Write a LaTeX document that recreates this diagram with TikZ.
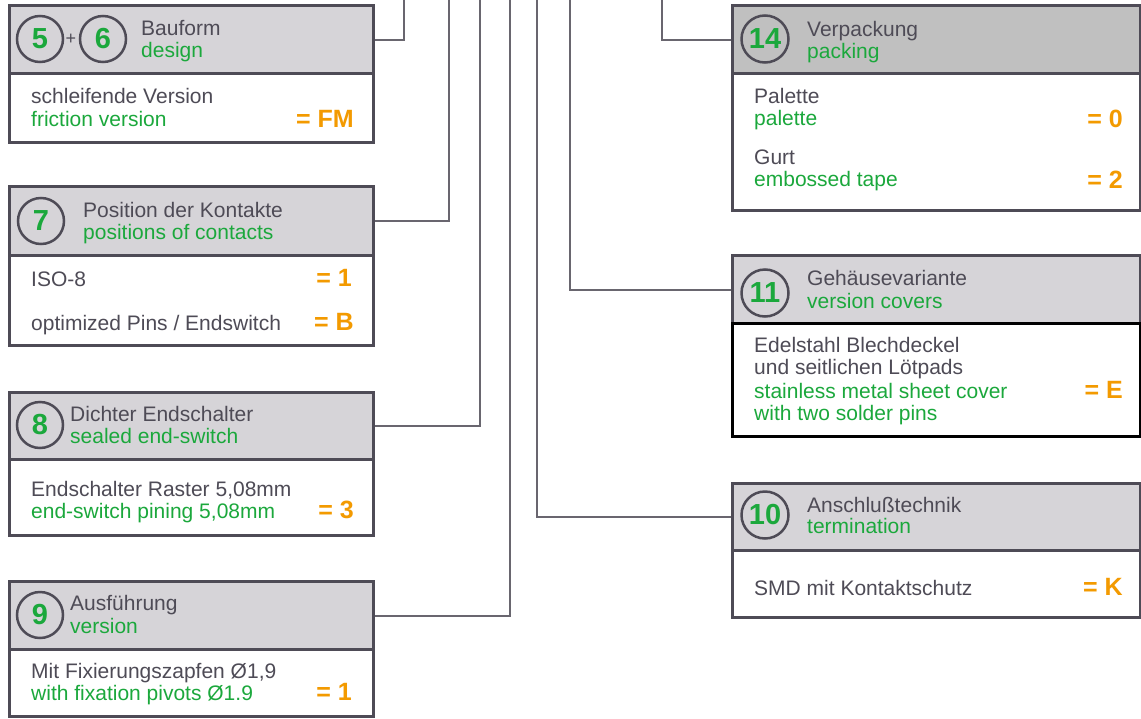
\documentclass[tikz,border=0pt]{standalone}
\usepackage{fontspec}
\setmainfont{Liberation Sans}
\usetikzlibrary{positioning}
\definecolor{txtgray}{HTML}{4E4B56}
\definecolor{txtgreen}{HTML}{1BA83C}
\definecolor{valorange}{HTML}{F39A00}
\definecolor{headfill}{HTML}{D6D4D8}
\definecolor{headdark}{HTML}{C0C0C0}
\definecolor{frame}{HTML}{4E4B56}
\tikzset{
	head/.style={draw=frame,line width=3pt,fill=headfill,anchor=north west,inner sep=0pt},
	body/.style={draw=frame,line width=3pt,fill=white,anchor=north west,inner sep=0pt},
	num/.style={circle,draw=frame,line width=2.5pt,minimum size=46pt,inner sep=0pt,text=txtgreen,font=\fontsize{29}{29}\selectfont\bfseries},
	de/.style={anchor=base west,inner sep=0pt,text=txtgray,font=\fontsize{21}{22}\selectfont},
	en/.style={de,text=txtgreen},
	val/.style={anchor=base east,inner sep=0pt,text=valorange,font=\fontsize{25}{25}\selectfont\bfseries},
	link/.style={draw=frame!85,line width=2pt}
}
\begin{document}
\begin{tikzpicture}[x=1pt,y=-1pt]
	\useasboundingbox (0,0) rectangle (1141,718);
	% left column
	\node[head,minimum width=364pt,minimum height=68pt] (h56) at (8,4) {};
	\node[body,minimum width=364pt,minimum height=69pt] (b56) at (8,72) {};
	\node[num] (n5) at (40,39) {5};
	\node[text=txtgray,inner sep=0pt,font=\fontsize{18}{18}\selectfont] (plus) at (71,39) {+};
	\node[num] (n6) at (103,39) {6};
	\node[de] (d56) at (141,35) {Bauform};
	\node[en] (e56) at (141,57) {design};
	\node[de] (o56a) at (31,103) {schleifende Version};
	\node[en] (o56b) at (31,126) {friction version};
	\node[val] (v56) at (354,127) {= FM};

	\node[head,minimum width=364pt,minimum height=69pt] (h7) at (8,185) {};
	\node[body,minimum width=364pt,minimum height=90pt] (b7) at (8,254) {};
	\node[num] (n7) at (41,221) {7};
	\node[de] (d7) at (83,217) {Position der Kontakte};
	\node[en] (e7) at (83,239) {positions of contacts};
	\node[de] (o7a) at (31,286) {ISO-8};
	\node[val] (v7a) at (352,286) {= 1};
	\node[de] (o7b) at (31,330) {optimized Pins / Endswitch};
	\node[val] (v7b) at (354,330) {= B};

	\node[head,minimum width=364pt,minimum height=67pt] (h8) at (8,391) {};
	\node[body,minimum width=364pt,minimum height=76pt] (b8) at (8,458) {};
	\node[num] (n8) at (40,425) {8};
	\node[de] (d8) at (70,421) {Dichter Endschalter};
	\node[en] (e8) at (70,443) {sealed end-switch};
	\node[de] (o8a) at (31,496) {Endschalter Raster 5,08mm};
	\node[en] (o8b) at (31,518) {end-switch pining 5,08mm};
	\node[val] (v8) at (354,518) {= 3};

	\node[head,minimum width=364pt,minimum height=68pt] (h9) at (8,580) {};
	\node[body,minimum width=364pt,minimum height=67pt] (b9) at (8,648) {};
	\node[num] (n9) at (40,615) {9};
	\node[de] (d9) at (70,610) {Ausführung};
	\node[en] (e9) at (70,633) {version};
	\node[de] (o9a) at (31,678) {Mit Fixierungszapfen Ø1,9};
	\node[en] (o9b) at (31,700) {with fixation pivots Ø1.9};
	\node[val] (v9) at (352,700) {= 1};

	% right column
	\node[head,fill=headdark,minimum width=408pt,minimum height=68pt] (h14) at (731,4) {};
	\node[body,minimum width=408pt,minimum height=137pt] (b14) at (731,72) {};
	\node[num,minimum size=47pt] (n14) at (765,39) {14};
	\node[de] (d14) at (807,36) {Verpackung};
	\node[en] (e14) at (807,58) {packing};
	\node[de] (o14a) at (754,103) {Palette};
	\node[en] (o14b) at (754,125) {palette};
	\node[val] (v14a) at (1123,127) {= 0};
	\node[de] (o14c) at (754,164) {Gurt};
	\node[en] (o14d) at (754,186) {embossed tape};
	\node[val] (v14b) at (1123,188) {= 2};

	\node[head,minimum width=408pt,minimum height=68pt] (h11) at (731,254) {};
	\node[body,draw=black,minimum width=408pt,minimum height=113pt] (b11) at (731,322) {};
	\node[num,minimum size=47pt] (n11) at (765,293) {11};
	\node[de] (d11) at (807,285) {Gehäusevariante};
	\node[en] (e11) at (807,308) {version covers};
	\node[de] (o11a) at (754,352) {Edelstahl Blechdeckel};
	\node[de] (o11b) at (754,374) {und seitlichen Lötpads};
	\node[en] (o11c) at (754,398) {stainless metal sheet cover};
	\node[en] (o11d) at (754,420) {with two solder pins};
	\node[val] (v11) at (1123,398) {= E};

	\node[head,minimum width=408pt,minimum height=67pt] (h10) at (731,482) {};
	\node[body,minimum width=408pt,minimum height=67pt] (b10) at (731,549) {};
	\node[num,minimum size=47pt] (n10) at (765,515) {10};
	\node[de] (d10) at (807,512) {Anschlußtechnik};
	\node[en] (e10) at (807,533) {termination};
	\node[de] (o10) at (754,595) {SMD mit Kontaktschutz};
	\node[val] (v10) at (1123,595) {= K};

	% leads up to the type code
	\coordinate (top56) at (404,0);
	\coordinate (top7) at (449,0);
	\coordinate (top8) at (480,0);
	\coordinate (top9) at (510,0);
	\coordinate (top10) at (537,0);
	\coordinate (top11) at (570,0);
	\coordinate (top14) at (662,0);
	\draw[link] (h56.east) -| (top56);
	\draw[link] (h7.east) -| (top7);
	\draw[link] (h8.east) -| (top8);
	\draw[link] (h9.east) -| (top9);
	\draw[link] (h10.west) -| (top10);
	\draw[link] (h11.west) -| (top11);
	\draw[link] (h14.west) -| (top14);
\end{tikzpicture}
\end{document}
